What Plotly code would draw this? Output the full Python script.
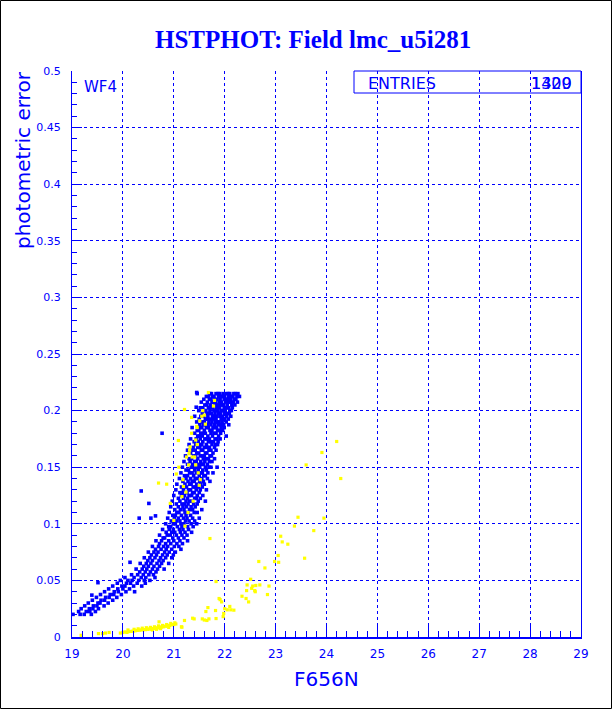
import plotly.graph_objects as go

# ---------------- data ----------------
# blue stars: photometric error levels and the F656N magnitudes found on each level
blue_err_levels = [
    0.2150, 0.2125, 0.2100, 0.2075, 0.2050, 0.2025, 0.2000, 0.1975, 0.1950, 0.1925,
    0.1900, 0.1875, 0.1850, 0.1825, 0.1800, 0.1775, 0.1750, 0.1725, 0.1700, 0.1675,
    0.1650, 0.1625, 0.1600, 0.1575, 0.1550, 0.1525, 0.1500, 0.1475, 0.1450, 0.1425,
    0.1400, 0.1375, 0.1350, 0.1325, 0.1300, 0.1275, 0.1250, 0.1225, 0.1200, 0.1175,
    0.1150, 0.1125, 0.1100, 0.1075, 0.1050, 0.1025, 0.1000, 0.0975, 0.0950, 0.0925,
    0.0900, 0.0875, 0.0850, 0.0825, 0.0800, 0.0775, 0.0750, 0.0725, 0.0700, 0.0675,
    0.0650, 0.0625, 0.0600, 0.0575, 0.0550, 0.0525, 0.0500, 0.0475, 0.0450, 0.0425,
    0.0400, 0.0375, 0.0350, 0.0325, 0.0300, 0.0275, 0.0250, 0.0225, 0.0200,
]
blue_mag_rows = [
    [21.46, 21.71, 21.74, 21.83, 21.87, 21.90, 21.97, 22.04, 22.07, 22.10, 22.18, 22.21, 22.26],
    [21.64, 21.68, 21.76, 21.79, 21.88, 21.93, 21.96, 22.00, 22.08, 22.13, 22.16, 22.24, 22.29],
    [21.59, 21.70, 21.73, 21.80, 21.85, 21.91, 21.99, 22.02, 22.06, 22.12, 22.19, 22.22],
    [21.54, 21.66, 21.75, 21.78, 21.82, 21.89, 21.94, 22.03, 22.09, 22.11, 22.17, 22.25],
    [21.61, 21.65, 21.72, 21.81, 21.86, 21.92, 21.95, 21.98, 22.05, 22.14, 22.20],
    [21.52, 21.57, 21.68, 21.74, 21.77, 21.84, 21.90, 21.99, 22.03, 22.08, 22.15],
    [21.49, 21.60, 21.63, 21.71, 21.79, 21.83, 21.87, 21.94, 21.97, 22.01, 22.10, 22.13],
    [21.56, 21.65, 21.69, 21.74, 21.81, 21.88, 21.92, 22.00, 22.06, 22.09],
    [21.41, 21.53, 21.59, 21.67, 21.76, 21.80, 21.85, 21.91, 21.96, 22.04, 22.12],
    [21.50, 21.62, 21.66, 21.72, 21.78, 21.83, 21.93, 21.97, 22.00, 22.07],
    [21.45, 21.56, 21.60, 21.69, 21.75, 21.82, 21.86, 21.89, 21.95, 22.03],
    [21.51, 21.58, 21.64, 21.67, 21.73, 21.80, 21.87, 21.92, 21.98, 22.08],
    [21.36, 21.51, 21.55, 21.64, 21.68, 21.77, 21.80, 21.84, 21.93, 21.99],
    [21.46, 21.49, 21.60, 21.71, 21.75, 21.86, 21.90, 21.96],
    [21.41, 21.53, 21.58, 21.62, 21.73, 21.79, 21.83, 21.92],
    [21.47, 21.50, 21.56, 21.67, 21.76, 21.88, 22.03],
    [21.33, 21.44, 21.52, 21.61, 21.65, 21.70, 21.81, 21.85, 21.91],
    [21.40, 21.48, 21.57, 21.68, 21.73, 21.78, 21.87],
    [21.30, 21.43, 21.53, 21.55, 21.64, 21.75, 21.82, 21.86],
    [21.38, 21.47, 21.51, 21.60, 21.66, 21.70, 21.80],
    [21.27, 21.36, 21.42, 21.54, 21.57, 21.69, 21.73, 21.83],
    [21.33, 21.45, 21.49, 21.62, 21.65, 21.77],
    [21.23, 21.39, 21.43, 21.52, 21.56, 21.60, 21.71, 21.74],
    [21.30, 21.35, 21.47, 21.58, 21.63, 21.68, 21.80],
    [21.20, 21.32, 21.41, 21.44, 21.53, 21.61, 21.70, 21.75],
    [21.27, 21.37, 21.49, 21.55, 21.58, 21.66],
    [21.17, 21.34, 21.38, 21.45, 21.51, 21.62, 21.69, 21.73, 21.85],
    [21.24, 21.29, 21.41, 21.48, 21.57, 21.64],
    [21.14, 21.31, 21.36, 21.44, 21.53, 21.56, 21.67, 21.77],
    [21.21, 21.27, 21.39, 21.50, 21.59, 21.62],
    [21.11, 21.24, 21.33, 21.42, 21.46, 21.55, 21.66],
    [21.18, 21.28, 21.36, 21.40, 21.51, 21.58, 21.71],
    [21.06, 21.22, 21.31, 21.34, 21.45, 21.53, 21.60],
    [21.15, 21.25, 21.38, 21.42, 21.49, 21.56],
    [21.04, 21.19, 21.29, 21.33, 21.44, 21.52, 21.64],
    [21.12, 21.17, 21.26, 21.37, 21.40, 21.50],
    [21.00, 21.15, 21.21, 21.30, 21.35, 21.46, 21.57],
    [21.09, 21.19, 21.27, 21.41, 21.44, 21.52],
    [20.97, 21.12, 21.24, 21.31, 21.36, 21.48, 21.62],
    [21.05, 21.16, 21.21, 21.28, 21.39, 21.46],
    [20.94, 21.09, 21.18, 21.25, 21.34, 21.42],
    [21.02, 21.13, 21.20, 21.31, 21.37, 21.55],
    [20.91, 21.06, 21.10, 21.22, 21.28, 21.40, 21.46],
    [20.98, 21.03, 21.15, 21.24, 21.33],
    [20.88, 21.01, 21.09, 21.19, 21.26, 21.37, 21.50],
    [20.95, 21.05, 21.12, 21.23, 21.30, 21.41],
    [20.84, 20.99, 21.03, 21.14, 21.20, 21.34, 21.45],
    [20.90, 20.94, 21.07, 21.16, 21.27, 21.38],
    [20.78, 20.91, 20.99, 21.11, 21.18, 21.29],
    [20.85, 20.96, 21.02, 21.13, 21.22, 21.35],
    [20.72, 20.87, 20.93, 21.05, 21.16, 21.26],
    [20.79, 20.82, 20.98, 21.09, 21.20],
    [20.65, 20.76, 20.90, 21.00, 21.12, 21.27],
    [20.72, 20.84, 20.94, 21.06, 21.17],
    [20.58, 20.70, 20.80, 20.88, 21.01, 21.10],
    [20.64, 20.75, 20.85, 20.96, 21.14],
    [20.50, 20.61, 20.69, 20.82, 20.91, 21.03],
    [20.56, 20.66, 20.78, 20.87, 20.99],
    [20.42, 20.53, 20.63, 20.74, 20.84, 20.96],
    [20.49, 20.58, 20.71, 20.79],
    [20.34, 20.46, 20.55, 20.67, 20.76, 20.90],
    [20.41, 20.50, 20.61, 20.72],
    [20.26, 20.38, 20.47, 20.58, 20.68, 20.81],
    [20.33, 20.44, 20.54, 20.65],
    [20.17, 20.29, 20.40, 20.51, 20.60],
    [20.04, 20.22, 20.36, 20.45, 20.63],
    [19.95, 20.10, 20.18, 20.31, 20.42, 20.53],
    [19.89, 20.07, 20.15, 20.28, 20.44],
    [19.80, 19.98, 20.04, 20.21, 20.37],
    [19.72, 19.90, 20.00, 20.13],
    [19.64, 19.83, 19.91, 20.06, 20.23],
    [19.56, 19.75, 19.82, 19.97],
    [19.48, 19.66, 19.73, 19.88],
    [19.40, 19.57, 19.64, 19.80],
    [19.32, 19.51, 19.55, 19.71],
    [19.25, 19.42, 19.49, 19.63],
    [19.18, 19.34, 19.41, 19.52],
    [19.13, 19.28, 19.35, 19.46],
    [19.16, 19.24, 19.38],
]
blue_outlier_mag = [20.77, 20.36, 20.51, 20.55, 20.32, 20.64, 20.14, 19.51, 19.02, 19.39, 21.45, 21.44]
blue_outlier_err = [0.180, 0.129, 0.118, 0.105, 0.105, 0.107, 0.066, 0.048, 0.020, 0.037, 0.216, 0.203]

# yellow stars
yellow_mag = [
    19.18, 19.52, 19.60, 19.66, 19.73,
    19.95, 20.00, 20.04, 20.08, 20.12, 20.16, 20.20, 20.24, 20.28, 20.32, 20.36, 20.40, 20.44,
    20.48, 20.52, 20.56, 20.60, 20.64, 20.68, 20.72, 20.76, 20.80, 20.84, 20.88, 20.92, 20.96,
    21.00, 21.04,
    20.10, 20.22, 20.30, 20.38, 20.46, 20.54, 20.62, 20.70, 20.78, 20.86, 20.94, 21.02, 20.58,
    20.66, 20.74, 20.90,
    20.71, 21.16, 21.21, 21.37, 21.40, 21.56, 21.60, 21.65, 21.69, 21.83, 21.97, 21.63, 21.82,
    21.67, 21.98, 22.00, 22.05, 22.10, 22.12, 22.18, 21.89, 21.94, 21.91, 22.34, 22.42, 22.47,
    22.44, 22.53, 22.61, 22.69, 22.87, 22.84, 22.60, 21.83, 22.51, 22.55, 22.43, 22.59, 22.67,
    22.79, 22.98, 23.06, 23.05, 23.57, 23.10, 23.13, 23.24, 23.37, 23.44, 23.95, 23.75, 23.60,
    23.91, 24.20, 24.28, 21.71, 21.15,
    21.21, 21.09, 20.70, 20.93, 20.86, 21.46, 21.43, 21.46, 21.51, 21.55, 21.57, 21.60, 21.78,
    21.80, 21.68, 21.25, 21.31, 21.29, 21.48, 21.52, 21.19, 21.24, 21.18, 21.50, 21.10, 21.05,
    21.16, 21.43, 21.41, 21.35, 21.62, 21.38, 21.28, 21.22, 21.00, 21.35, 21.45, 21.32, 21.36,
    21.30,
]
yellow_err = [
    0.0015, 0.0030, 0.0030, 0.0035, 0.0040,
    0.0035, 0.0040, 0.0045, 0.0040, 0.0048, 0.0050, 0.0052, 0.0055, 0.0058, 0.0060, 0.0062, 0.0065, 0.0065,
    0.0068, 0.0070, 0.0072, 0.0075, 0.0078, 0.0080, 0.0085, 0.0088, 0.0090, 0.0095, 0.0098, 0.0102, 0.0108,
    0.0110, 0.0115,
    0.0062, 0.0068, 0.0072, 0.0078, 0.0082, 0.0085, 0.0090, 0.0098, 0.0102, 0.0110, 0.0120, 0.0125, 0.0062,
    0.0068, 0.0074, 0.0085,
    0.0134, 0.0087, 0.0146, 0.0166, 0.0160, 0.0160, 0.0150, 0.0146, 0.0160, 0.0163, 0.0180, 0.0225, 0.0234,
    0.0260, 0.0208, 0.0250, 0.0240, 0.0270, 0.0240, 0.0237, 0.0340, 0.0310, 0.0330, 0.0360, 0.0340, 0.0310,
    0.0460, 0.0430, 0.0455, 0.0460, 0.0450, 0.0375, 0.0400, 0.0490, 0.0510, 0.0450, 0.0410, 0.0410, 0.0667,
    0.0610, 0.0667, 0.0660, 0.0720, 0.0696, 0.0890, 0.0840, 0.0820, 0.0980, 0.1058, 0.1050, 0.0940, 0.1520,
    0.1630, 0.1727, 0.1400, 0.0870, 0.0090,
    0.2010, 0.1736, 0.1360, 0.1180, 0.1350, 0.1700, 0.1740, 0.1850, 0.1910, 0.1950, 0.2000, 0.1960, 0.2040,
    0.2090, 0.2160, 0.1590, 0.1650, 0.1520, 0.1450, 0.1390, 0.1330, 0.1280, 0.1390, 0.1340, 0.1500, 0.1440,
    0.1240, 0.1520, 0.1590, 0.1800, 0.1880, 0.1200, 0.1100, 0.0980, 0.1030, 0.1940, 0.1860, 0.1680, 0.1590,
    0.1620,
]

x_tick_vals = [19, 20, 21, 22, 23, 24, 25, 26, 27, 28, 29]
x_tick_text = ["19", "20", "21", "22", "23", "24", "25", "26", "27", "28", "29"]
y_tick_vals = [0, 0.05, 0.1, 0.15, 0.2, 0.25, 0.3, 0.35, 0.4, 0.45, 0.5]
y_tick_text = ["0", "0.05", "0.1", "0.15", "0.2", "0.25", "0.3", "0.35", "0.4", "0.45", "0.5"]

title_text = "HSTPHOT: Field lmc_u5i281"
x_title = "F656N"
y_title = "photometric error"
field_label = "WF4"
stats_label = "ENTRIES"
entries_blue = "1320"
entries_yellow = "1409"

# ---------------- build ----------------
blue_x, blue_y = [], []
for err, row in zip(blue_err_levels, blue_mag_rows):
    for m in row:
        blue_x.append(m)
        blue_y.append(err)
blue_x += blue_outlier_mag
blue_y += blue_outlier_err

BLUE = "#0000ff"
YEL = "#ffff00"
W, H = 612, 709
L, R, T, B = 72, 31, 71, 72
PW, PH = W - L - R, H - T - B

def px(xp):
    return (xp - L) / PW

def py(yp):
    return (H - B - yp) / PH

fig = go.Figure()
fig.add_trace(go.Scatter(x=blue_x, y=blue_y, mode="markers",
                         marker=dict(symbol="square", size=3.6, color=BLUE, line=dict(width=0)),
                         showlegend=False, hoverinfo="skip"))
fig.add_trace(go.Scatter(x=yellow_mag, y=yellow_err, mode="markers",
                         marker=dict(symbol="square", size=3.2, color=YEL, line=dict(width=0)),
                         showlegend=False, hoverinfo="skip"))

axis_common = dict(
    showgrid=True, gridcolor=BLUE, griddash="3px,3px", gridwidth=1,
    zeroline=False, showline=True, linecolor=BLUE,
    ticks="inside", tickcolor=BLUE, tickwidth=1,
    tickfont=dict(family="DejaVu Sans", size=11, color=BLUE),
)
fig.update_xaxes(range=[19, 29], tickmode="array", tickvals=x_tick_vals, ticktext=x_tick_text,
                 ticklen=11, linewidth=2, mirror=False,
                 minor=dict(dtick=0.2, ticks="inside", ticklen=6, tickcolor=BLUE, showgrid=False),
                 ticklabelstandoff=5,
                 **{**axis_common, "tickfont": dict(family="DejaVu Sans", size=12, color=BLUE)})
fig.update_yaxes(range=[0, 0.5], tickmode="array", tickvals=y_tick_vals, ticktext=y_tick_text,
                 ticklen=10, linewidth=1, mirror=True,
                 minor=dict(dtick=0.01, ticks="inside", ticklen=5, tickcolor=BLUE, showgrid=False),
                 ticklabelstandoff=8, **axis_common)

annotations = [
    dict(text=f"<b>{title_text}</b>", x=px(313), y=py(39), xanchor="center", yanchor="middle",
         font=dict(family="Liberation Serif", size=25, color=BLUE)),
    dict(text=y_title, x=px(23), y=py(69), xanchor="center", yanchor="top", textangle=-90,
         font=dict(family="DejaVu Sans", size=20, color=BLUE)),
    dict(text=x_title, x=px(326), y=py(679), xanchor="center", yanchor="middle",
         font=dict(family="DejaVu Sans", size=20, color=BLUE)),
    dict(text=field_label, x=px(82), y=py(87), xanchor="left", yanchor="middle",
         font=dict(family="DejaVu Sans", size=15, color=BLUE)),
    dict(text=stats_label, x=px(366), y=py(83), xanchor="left", yanchor="middle",
         font=dict(family="DejaVu Sans", size=16, color=BLUE)),
    dict(text=entries_blue, x=px(529), y=py(83), xanchor="left", yanchor="middle",
         font=dict(family="DejaVu Sans", size=16, color=BLUE)),
    dict(text=entries_yellow, x=px(529), y=py(83), xanchor="left", yanchor="middle",
         font=dict(family="DejaVu Sans", size=16, color=BLUE)),
]
for a in annotations:
    a.update(xref="paper", yref="paper", showarrow=False)

shapes = [
    dict(type="rect", xref="paper", yref="paper", x0=px(354), x1=1, y0=py(93), y1=1,
         line=dict(color=BLUE, width=1), fillcolor="rgba(0,0,0,0)"),
    dict(type="rect", xref="paper", yref="paper", x0=px(0.5), x1=px(W - 0.5), y0=py(H - 0.5), y1=py(0.5),
         line=dict(color="black", width=1), fillcolor="rgba(0,0,0,0)"),
]

fig.update_layout(
    width=W, height=H, margin=dict(l=L, r=R, t=T, b=B, pad=0),
    paper_bgcolor="white", plot_bgcolor="white",
    annotations=annotations, shapes=shapes, showlegend=False,
)
fig.write_html("out.html", config={"displayModeBar": False},
               post_script="document.body.style.margin='0';document.body.style.overflow='hidden';")
